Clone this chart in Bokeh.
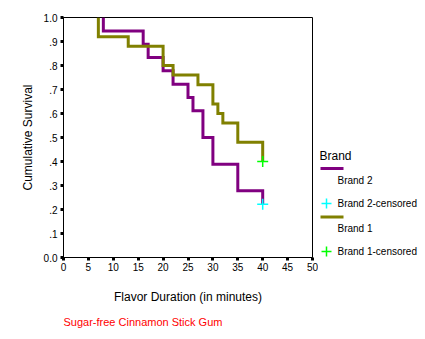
from bokeh.plotting import figure
from bokeh.models import Range1d, FixedTicker, CustomJSTickFormatter, Title
from bokeh.layouts import row
from bokeh.core.properties import value
from bokeh.embed import file_html
from bokeh.resources import INLINE

# ---- data ----
brand2_time = [8, 16, 17, 20, 22, 25, 26, 28, 30, 35, 40]
brand2_surv = [0.944, 0.889, 0.833, 0.778, 0.722, 0.667, 0.611, 0.500, 0.389, 0.278, 0.222]
brand2_cens_time = [40]
brand2_cens_surv = [0.222]

brand1_time = [7, 13, 20, 22, 27, 30, 31, 32, 35, 40]
brand1_surv = [0.92, 0.88, 0.80, 0.76, 0.72, 0.64, 0.60, 0.56, 0.48, 0.40]
brand1_cens_time = [40]
brand1_cens_surv = [0.40]

x_ticks = [0, 5, 10, 15, 20, 25, 30, 35, 40, 45, 50]
y_ticks = [0.0, 0.1, 0.2, 0.3, 0.4, 0.5, 0.6, 0.7, 0.8, 0.9, 1.0]

legend_title = "Brand"
legend_labels = ["Brand 2", "Brand 2-censored", "Brand 1", "Brand 1-censored"]

PURPLE = "#800080"
OLIVE = "#808000"
CYAN = "#00FFFF"
GREEN = "#00FF00"
FONT = "Liberation Sans"

MAIN_W = 318
TOP, BOTTOM = 17, 257
p = figure(width=MAIN_W, height=339, x_range=Range1d(0, 50), y_range=Range1d(0, 1),
           output_backend="svg", toolbar_location=None,
           min_border_left=63, min_border_right=MAIN_W - 312, min_border_top=TOP,
           min_border_bottom=339 - BOTTOM)
p.grid.visible = False
p.background_fill_color = "white"
p.border_fill_color = "white"
p.outline_line_color = "black"
p.outline_line_width = 1
p.outline_line_alpha = 1

for ax in (p.xaxis[0], p.yaxis[0]):
    ax.axis_line_color = "black"
    ax.axis_line_width = 1
    ax.major_tick_in = 0
    ax.major_tick_out = 3
    ax.major_tick_line_width = 3
    ax.major_tick_line_color = "black"
    ax.minor_tick_line_color = None
    ax.major_label_text_font = FONT
    ax.major_label_text_font_size = "10px"
    ax.major_label_text_color = "black"
    ax.axis_label_text_font = FONT
    ax.axis_label_text_font_size = "12px"
    ax.axis_label_text_font_style = "normal"
    ax.axis_label_text_color = "black"

p.xaxis[0].ticker = FixedTicker(ticks=x_ticks)
p.xaxis[0].major_label_standoff = 2
p.xaxis[0].axis_label = "Flavor Duration (in minutes)"
p.xaxis[0].axis_label_standoff = 16
p.yaxis[0].ticker = FixedTicker(ticks=y_ticks)
p.yaxis[0].major_label_standoff = 3
p.yaxis[0].axis_label = "Cumulative Survival"
p.yaxis[0].axis_label_standoff = 6
p.yaxis[0].formatter = CustomJSTickFormatter(code="""
if (tick < 0.05) return "0.0";
if (tick > 0.95) return "1.0";
return "." + Math.round(tick * 10);
""")

p.add_layout(Title(text="Sugar-free Cinnamon Stick Gum", align="left", text_color="#FF0000",
                   text_font=FONT, text_font_size="11px", text_font_style="normal",
                   standoff=14), "below")

def km_path(times, surv):
    return [times[0]] + list(times), [1.0] + list(surv)

x2, y2 = km_path(brand2_time, brand2_surv)
x1, y1 = km_path(brand1_time, brand1_surv)
p.step(x2, y2, mode="after", line_color=PURPLE, line_width=3, line_join="miter")
p.step(x1, y1, mode="after", line_color=OLIVE, line_width=3, line_join="miter")
p.scatter(brand2_cens_time, brand2_cens_surv, marker="cross", size=11, line_color=CYAN, line_width=1.5)
p.scatter(brand1_cens_time, brand1_cens_surv, marker="cross", size=11, line_color=GREEN, line_width=1.5)

# ---- legend panel (pixel coordinates of the window; frame aligned with main frame) ----
lg = figure(width=425 - MAIN_W, height=339, x_range=Range1d(MAIN_W, 425), y_range=Range1d(BOTTOM, TOP),
            output_backend="svg", toolbar_location=None, x_axis_location=None, y_axis_location=None,
            min_border_left=0, min_border_right=0, min_border_top=TOP, min_border_bottom=339 - BOTTOM)
lg.grid.visible = False
lg.outline_line_color = None
lg.background_fill_color = "white"
lg.border_fill_color = "white"

lg.text(x=[319], y=[155], text=[legend_title], text_font=value(FONT), text_font_size="12px",
        text_baseline="middle", text_color="black")
lg.text(x=[337, 337, 337, 337], y=[180, 203, 228, 251], text=legend_labels, text_font=value(FONT),
        text_font_size="10px", text_baseline="middle", text_color="black")
lg.segment(x0=[320, 320], y0=[168, 216.5], x1=[343, 343], y1=[168, 216.5],
           line_color=[PURPLE, OLIVE], line_width=3)
lg.scatter(x=[326, 326], y=[203, 251], marker="cross", size=10, line_color=[CYAN, GREEN], line_width=1.5)

layout = row(p, lg, spacing=0)
open("out.html", "w").write(file_html(layout, INLINE))
